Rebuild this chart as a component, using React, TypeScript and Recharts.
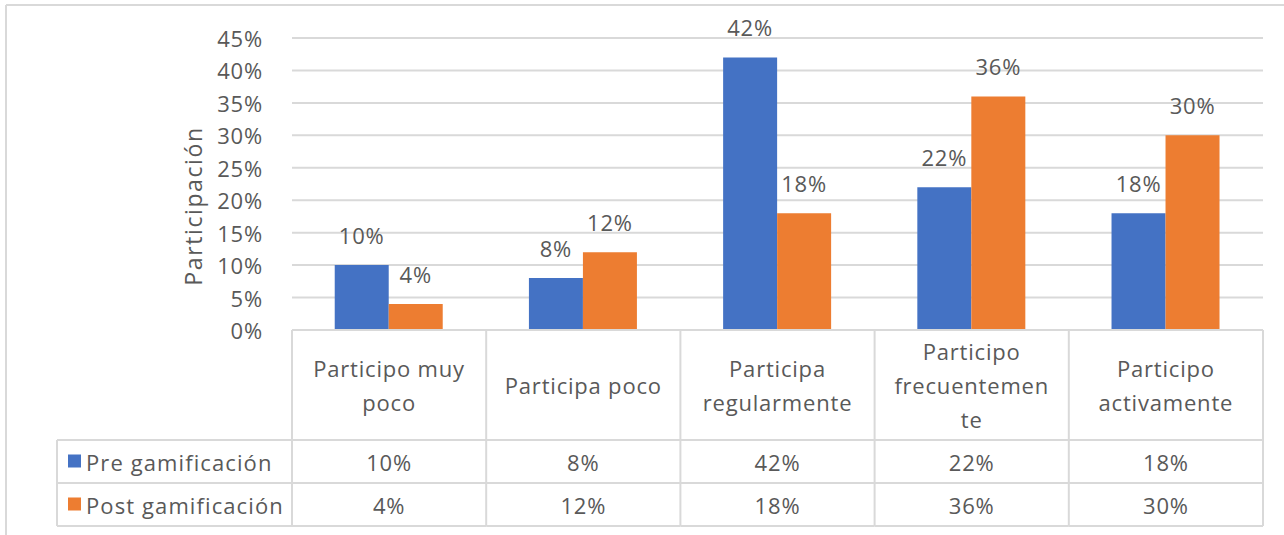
import React from 'react';
import { BarChart, Bar, XAxis, YAxis, CartesianGrid, LabelList } from 'recharts';

const categories = [
  'Participo muy poco',
  'Participa poco',
  'Participa regularmente',
  'Participo frecuentemente',
  'Participo activamente',
];
// how Excel wrapped each category in the header row of the data table
const headerLines = [
  ['Participo muy', 'poco'],
  ['Participa poco'],
  ['Participa', 'regularmente'],
  ['Participo', 'frecuentemen', 'te'],
  ['Participo', 'activamente'],
];
const preValues = [10, 8, 42, 22, 18];
const postValues = [4, 12, 18, 36, 30];
const yTicks = [0, 5, 10, 15, 20, 25, 30, 35, 40, 45];
const seriesNames = ['Pre gamificación', 'Post gamificación'];

const BLUE = '#4472C4';
const ORANGE = '#ED7D31';
const TEXT = '#595959';
const LINE = '#d9d9d9';
const FONT = '"Open Sans", "Noto Sans", sans-serif';
const FS = 22;
const LS = 0.8;

const data = categories.map((name, i) => ({ name, pre: preValues[i], post: postValues[i] }));

const HEADER_H = 110;
const ROW_H = 43;
const LEGEND_LEFT = 57;

const TableTick = (props: any) => {
  const { x, y, index, width, visibleTicksCount } = props;
  const colW = width && visibleTicksCount ? width / visibleTicksCount : 194.2;
  const left = x - colW / 2;
  const right = x + colW / 2;
  const lines = headerLines[index] || [categories[index]];
  const lh = 34;
  const firstY = y + HEADER_H / 2 - ((lines.length - 1) * lh) / 2;
  const r1 = y + HEADER_H;
  const r2 = r1 + ROW_H;
  const r3 = r2 + ROW_H;
  const last = index === visibleTicksCount - 1;
  const txt = {
    fill: TEXT,
    fontSize: FS,
    letterSpacing: LS,
    fontFamily: FONT,
    textAnchor: 'middle' as const,
    dominantBaseline: 'central' as const,
  };
  return (
    <g>
      <line x1={left} y1={y} x2={right} y2={y} stroke={LINE} strokeWidth={2} />
      <line x1={left} y1={r1} x2={right} y2={r1} stroke={LINE} strokeWidth={2} />
      <line x1={left} y1={r2} x2={right} y2={r2} stroke={LINE} strokeWidth={2} />
      <line x1={left} y1={r3} x2={right} y2={r3} stroke={LINE} strokeWidth={2} />
      <line x1={left} y1={y} x2={left} y2={r3} stroke={LINE} strokeWidth={2} />
      {last && <line x1={right} y1={y} x2={right} y2={r3} stroke={LINE} strokeWidth={2} />}
      {lines.map((l: string, k: number) => (
        <text key={k} x={x} y={firstY + k * lh} {...txt}>{l}</text>
      ))}
      <text x={x} y={r1 + ROW_H / 2} {...txt}>{preValues[index]}%</text>
      <text x={x} y={r2 + ROW_H / 2} {...txt}>{postValues[index]}%</text>
      {index === 0 && (
        <g>
          <line x1={LEGEND_LEFT} y1={r1} x2={left} y2={r1} stroke={LINE} strokeWidth={2} />
          <line x1={LEGEND_LEFT} y1={r2} x2={left} y2={r2} stroke={LINE} strokeWidth={2} />
          <line x1={LEGEND_LEFT} y1={r3} x2={left} y2={r3} stroke={LINE} strokeWidth={2} />
          <line x1={LEGEND_LEFT} y1={r1} x2={LEGEND_LEFT} y2={r3} stroke={LINE} strokeWidth={2} />
          {[BLUE, ORANGE].map((c, k) => (
            <g key={k}>
              <rect x={LEGEND_LEFT + 11} y={r1 + k * ROW_H + ROW_H / 2 - 7} width={13} height={13} fill={c} />
              <text
                x={LEGEND_LEFT + 29}
                y={r1 + k * ROW_H + ROW_H / 2}
                fill={TEXT}
                fontSize={FS}
                letterSpacing={1.1}
                fontFamily={FONT}
                dominantBaseline="central"
              >
                {seriesNames[k]}
              </text>
            </g>
          ))}
        </g>
      )}
    </g>
  );
};

const YTick = (props: any) => {
  const { x, y, payload } = props;
  return (
    <text x={x} y={y} fill={TEXT} fontSize={FS} letterSpacing={LS} fontFamily={FONT} textAnchor="end" dominantBaseline="central">
      {payload.value}%
    </text>
  );
};

const renderYLabel = () => (
  <text
    x={193}
    y={206}
    transform="rotate(-90 193 206)"
    fill={TEXT}
    fontSize={23}
    letterSpacing={1.6}
    fontFamily={FONT}
    textAnchor="middle"
    dominantBaseline="central"
  >
    Participación
  </text>
);

const renderBarLabel = (props: any) => {
  const { x, y, width, value } = props;
  return (
    <text x={x + width / 2} y={y - 21} fill={TEXT} fontSize={FS} letterSpacing={LS} fontFamily={FONT} textAnchor="middle">
      {value}%
    </text>
  );
};

const App: React.FC = () => {
  return (
    <div style={{ position: 'absolute', left: 0, top: 0, width: 1284, height: 535, background: '#fff' }}>
      <svg width={1284} height={535} style={{ position: 'absolute', left: 0, top: 0 }}>
        <line x1={6} y1={5} x2={1284} y2={5} stroke={LINE} strokeWidth={2} />
        <line x1={6} y1={5} x2={6} y2={535} stroke={LINE} strokeWidth={2} />
      </svg>
      <div style={{ position: 'absolute', left: 0, top: 0 }}>
        <BarChart
          width={1284}
          height={535}
          data={data}
          margin={{ top: 38, right: 21, bottom: 0, left: 232 }}
          barCategoryGap="22%"
          barGap={0}
        >
          <CartesianGrid horizontal vertical={false} stroke={LINE} strokeWidth={2} />
          <YAxis
            width={60}
            domain={[0, 45]}
            ticks={yTicks}
            interval={0}
            axisLine={false}
            tickLine={false}
            tickSize={0}
            tickMargin={29}
            tick={<YTick />}
            label={renderYLabel}
          />
          <XAxis
            dataKey="name"
            height={205}
            interval={0}
            axisLine={false}
            tickLine={false}
            tickSize={0}
            tickMargin={0}
            tick={<TableTick />}
          />
          <Bar dataKey="pre" fill={BLUE} isAnimationActive={false}>
            <LabelList dataKey="pre" content={renderBarLabel} />
          </Bar>
          <Bar dataKey="post" fill={ORANGE} isAnimationActive={false}>
            <LabelList dataKey="post" content={renderBarLabel} />
          </Bar>
        </BarChart>
      </div>
    </div>
  );
};

export default App;
